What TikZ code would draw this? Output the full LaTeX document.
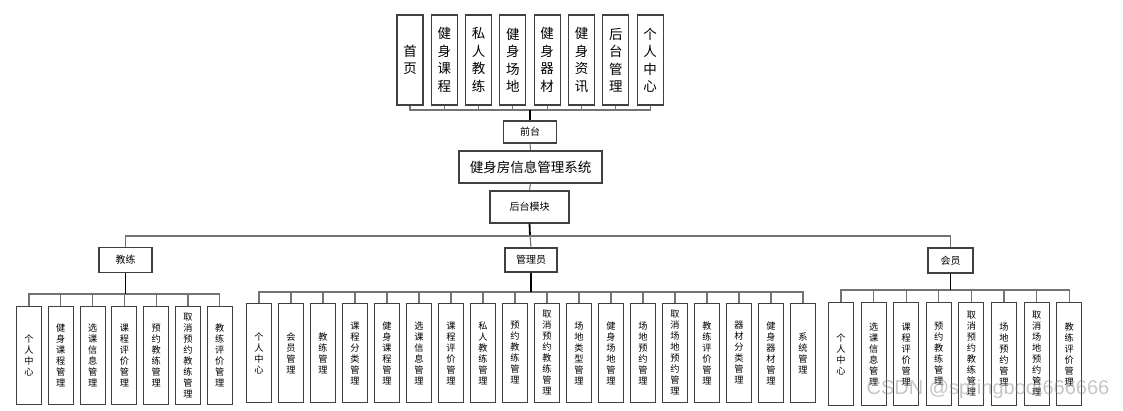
\documentclass[tikz,border=0pt]{standalone}
\usepackage{fontspec}
\newfontfamily\cjk{Noto Sans CJK SC}
\newfontfamily\marksans{Liberation Sans}
\XeTeXlinebreaklocale "zh"
\XeTeXlinebreakskip=0pt plus 1pt
\tikzset{
box/.style = {rectangle, draw=black!75, line width=1.1pt, fill=white, inner sep=1pt},
topbox/.style = {box, minimum width=26pt, minimum height=90pt, text width=15pt,
                 align=center, font=\cjk\fontsize{13.5}{17.5}\selectfont},
leaf/.style = {box, minimum width=25pt, minimum height=#1, text width=11pt,
               align=center, anchor=north, font=\cjk\fontsize{9.2}{11}\selectfont},
leaf/.default = 98pt, % height of the bottom boxes
group/.style = {box, minimum width=#1, minimum height=25pt,
                font=\cjk\fontsize{10}{12}\selectfont},
group/.default = 52pt,
branch/.style = {draw=black!55, line width=1.1pt},
trunk/.style = {draw=black, line width=1.8pt}
}

\begin{document}
\begin{tikzpicture}[x=1pt, y=-1pt]
    \useasboundingbox (0,0) rectangle (1123,411);
    % front end
    \coordinate (qtbus) at (530,110);
    \foreach \t [count=\i] in {首页,健身课程,私人教练,健身场地,健身器材,健身资讯,后台管理,个人中心} {
        \node[topbox] (qt\i) at ({410+34.3*(\i-1)},60) {\t};
        \draw[branch] (qt\i.south) |- (qtbus);
    }
    \node[group=53pt, minimum height=22pt] (qiantai) at (530,132) {前台};
    \node[box, minimum width=143pt, minimum height=32pt,
          font=\cjk\fontsize{13.5}{15}\selectfont] (system) at (530.5,167) {健身房信息管理系统};
    \node[group=79pt, minimum height=32pt] (houtai) at (529.5,207) {后台模块};
    \draw[trunk] (qiantai.north) -- (qtbus);
    \draw[branch] (qiantai.south) -- (system.north);
    \draw[branch] (system.south) -- (houtai.north);

    % back end
    \coordinate (htbus) at (530,236);
    \node[group=53pt] (jiaolian) at (125.5,260) {教练};
    \node[group=52pt, minimum height=24pt] (guanli) at (531,260) {管理员};
    \node[group=45pt] (huiyuan) at (950.5,260.5) {会员};
    \draw[trunk] (houtai.south) -- (htbus);
    \draw[branch] (jiaolian.north) |- (htbus);
    \draw[branch] (guanli.north) -- (htbus);
    \draw[branch] (huiyuan.north) |- (htbus);

    % coach
    \coordinate (jlbus) at (125.5,294);
    \foreach \t [count=\i] in {个人中心,健身课程管理,选课信息管理,课程评价管理,预约教练管理,取消预约教练管理,教练评价管理} {
        \node[leaf] (jl\i) at ({29+31.8*(\i-1)},306) {\t};
        \draw[branch] (jl\i.north) |- (jlbus);
    }
    \draw[trunk] (jiaolian.south) -- (jlbus);

    % admin
    \coordinate (glbus) at (531,292);
    \foreach \t [count=\i] in {个人中心,会员管理,教练管理,课程分类管理,健身课程管理,选课信息管理,课程评价管理,私人教练管理,预约教练管理,取消预约教练管理,场地类型管理,健身场地管理,场地预约管理,取消场地预约管理,教练评价管理,器材分类管理,健身器材管理,系统管理} {
        \node[leaf=99pt] (gl\i) at ({259+32*(\i-1)},303) {\t};
        \draw[branch] (gl\i.north) |- (glbus);
    }
    \draw[trunk] (guanli.south) -- (glbus);

    % member
    \coordinate (hybus) at (950.5,290);
    \foreach \t [count=\i] in {个人中心,选课信息管理,课程评价管理,预约教练管理,取消预约教练管理,场地预约管理,取消场地预约管理,教练评价管理} {
        \node[leaf=103pt] (hy\i) at ({841+32.6*(\i-1)},302) {\t};
        \draw[branch] (hy\i.north) |- (hybus);
    }
    \draw[trunk] (huiyuan.south) -- (hybus);

    \node[text=gray, opacity=0.45, font=\marksans\fontsize{20}{20}\selectfont] (mark) at (988,389) {CSDN @springboot666666};
\end{tikzpicture}
\end{document}
